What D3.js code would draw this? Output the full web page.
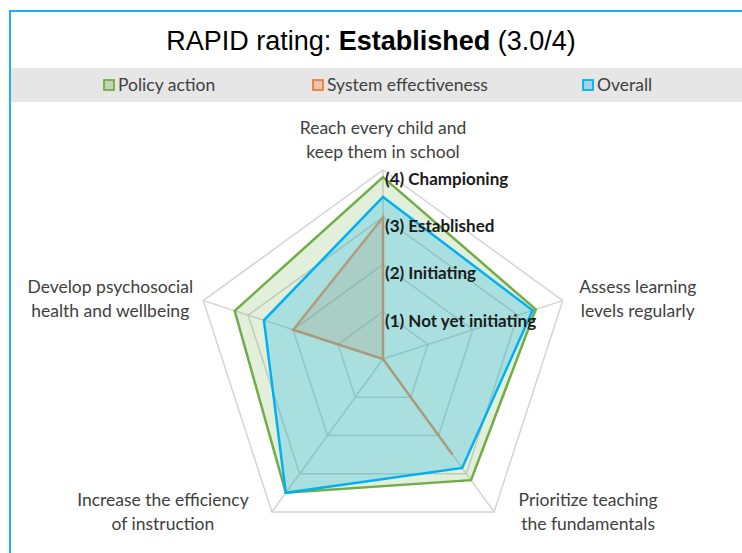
<!DOCTYPE html>
<html>
<head>
<meta charset="utf-8">
<script src="https://cdn.jsdelivr.net/npm/d3@7"></script>
<style>
body { margin: 0; background: #fff; }
svg { display: block; }
</style>
</head>
<body>
<script>
// axis categories (clockwise from top)
var axes = [
	["Reach every child and", "keep them in school"],
	["Assess learning", "levels regularly"],
	["Prioritize teaching", "the fundamentals"],
	["Increase the efficiency", "of instruction"],
	["Develop psychosocial", "health and wellbeing"]
];
var policyAction = [3.85, 3.4, 3.17, 3.5, 3.3];
var systemEffectiveness = [3.0, 0, 2.5, 0, 2.0];
var overall = [3.43, 3.33, 2.85, 3.5, 2.65];
var levels = [1, 2, 3, 4];
var levelLabels = ["(1) Not yet initiating", "(2) Initiating", "(3) Established", "(4) Championing"];
var seriesNames = ["Policy action", "System effectiveness", "Overall"];

var w = 742, h = 553;
var cx = 383, cy = 359, R = 189;
var colors = ["#70ad47", "#ed7d31", "#00b0f0"];
var fillOpacity = [0.2, 0.2, 0.25];
// label offsets from the outer vertex of each axis
var labelOffsets = [[0, -30], [75, -2], [94, 0], [-109, 0], [-93, -2]];

var svg = d3.select("body").append("svg")
	.attr("width", w)
	.attr("height", h);

// frame
svg.append("rect")
	.attr("x", 10).attr("y", 11)
	.attr("width", w + 20).attr("height", h + 20)
	.attr("fill", "#fff")
	.attr("stroke", "#1fb1ef")
	.attr("stroke-width", 2);

svg.append("text")
	.attr("x", 371).attr("y", 50)
	.attr("text-anchor", "middle")
	.style("font-family", "'Liberation Sans', Arial, sans-serif")
	.style("font-size", "27px")
	.attr("fill", "#000")
	.call(t => {
		t.append("tspan").text("RAPID rating: ");
		t.append("tspan").attr("font-weight", "bold").text("Established");
		t.append("tspan").text(" (3.0/4)");
	});

// legend band
svg.append("rect")
	.attr("x", 11).attr("y", 68)
	.attr("width", w).attr("height", 34)
	.attr("fill", "#e7e6e6");

var legendX = [104, 313, 583];
var legend = svg.selectAll(".leg")
	.data(seriesNames)
	.enter().append("g")
	.attr("transform", (d, i) => "translate(" + legendX[i] + ",85)");
legend.append("rect")
	.attr("x", 0).attr("y", -5)
	.attr("width", 10).attr("height", 10)
	.attr("fill", (d, i) => colors[i])
	.attr("fill-opacity", 0.3)
	.attr("stroke", (d, i) => colors[i])
	.attr("stroke-width", 1.8);
legend.append("text")
	.attr("x", 14).attr("y", 0)
	.attr("dy", "0.35em")
	.style("font-family", "Lato, 'Open Sans', sans-serif")
	.style("font-size", "17.5px")
	.attr("fill", "#404040")
	.text(d => d);

// scales
var rScale = d3.scaleLinear().domain([0, 4]).range([0, R]);
var angle = d3.scaleLinear().domain([0, axes.length]).range([-Math.PI / 2, 3 * Math.PI / 2]);
function pt(i, v) {
	var a = angle(i), r = rScale(v);
	return [cx + r * Math.cos(a), cy + r * Math.sin(a)];
}
var radarLine = d3.line().curve(d3.curveLinearClosed);

var g = svg.append("g");

// grid
g.selectAll(".ring")
	.data(levels)
	.enter().append("path")
	.attr("d", l => radarLine(axes.map((a, i) => pt(i, l))))
	.attr("fill", "none")
	.attr("stroke", "#d4d4d4")
	.attr("stroke-width", 1.5);
g.selectAll(".spoke")
	.data(axes)
	.enter().append("line")
	.attr("x1", cx).attr("y1", cy)
	.attr("x2", (d, i) => pt(i, 4)[0])
	.attr("y2", (d, i) => pt(i, 4)[1])
	.attr("stroke", "#d4d4d4")
	.attr("stroke-width", 1.5);

// series: each fill then its line, so later fills tint earlier lines
var series = [policyAction, systemEffectiveness, overall];
series.forEach(function(vals, k) {
	var d = radarLine(vals.map((v, i) => pt(i, v)));
	g.append("path")
		.attr("d", d)
		.attr("fill", colors[k])
		.attr("fill-opacity", fillOpacity[k]);
	g.append("path")
		.attr("d", d)
		.attr("fill", "none")
		.attr("stroke", colors[k])
		.attr("stroke-opacity", k == 1 ? 0.75 : 1)
		.attr("stroke-width", 2.5)
		.attr("stroke-linejoin", "miter");
});

// level labels
g.selectAll(".lvl")
	.data(levels)
	.enter().append("text")
	.attr("x", cx + 2)
	.attr("y", l => cy - rScale(l) + 9)
	.attr("dy", "0.35em")
	.style("font-family", "Lato, 'Open Sans', sans-serif")
	.style("font-size", "17px")
	.attr("font-weight", "bold")
	.attr("fill", "#1a1a1a")
	.text((l, i) => levelLabels[i]);

// axis labels
var lab = g.selectAll(".axlab")
	.data(axes)
	.enter().append("text")
	.attr("text-anchor", "middle")
	.style("font-family", "Lato, 'Open Sans', sans-serif")
	.style("font-size", "17.5px")
	.attr("fill", "#404040")
	.attr("transform", (d, i) => {
		var p = pt(i, 4);
		return "translate(" + (p[0] + labelOffsets[i][0]) + "," + (p[1] + labelOffsets[i][1]) + ")";
	});
lab.selectAll("tspan")
	.data(d => d)
	.enter().append("tspan")
	.attr("x", 0)
	.attr("y", (d, j) => (j - 0.5) * 24)
	.attr("dy", "0.35em")
	.text(d => d);
</script>
</body>
</html>
